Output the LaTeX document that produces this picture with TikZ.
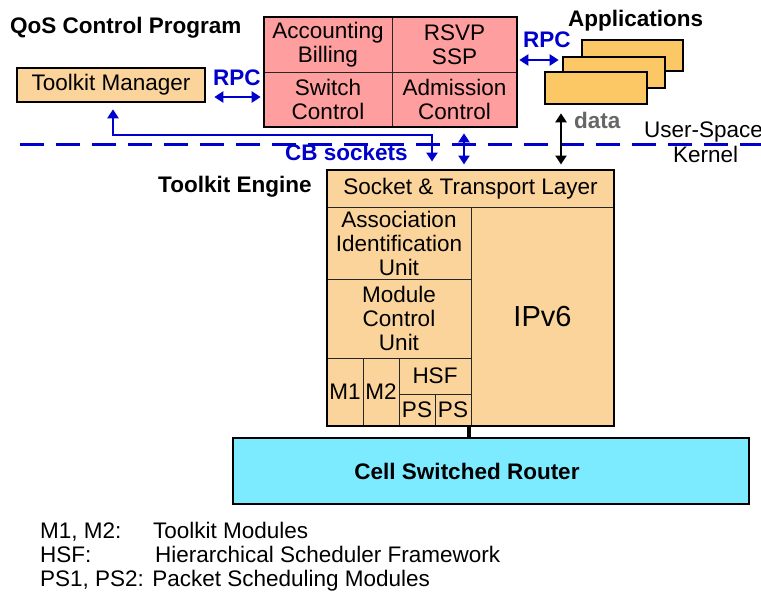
\documentclass[tikz,border=0pt]{standalone}
\usepackage{fontspec}
\setmainfont{Liberation Sans}
\usetikzlibrary{arrows.meta}
\definecolor{orfill}{HTML}{FAD49B}
\definecolor{redfill}{HTML}{FF9E9E}
\definecolor{appfill}{HTML}{FCC865}
\definecolor{routfill}{HTML}{7DEBFF}
\definecolor{myblue}{HTML}{0000CC}
\definecolor{datagray}{HTML}{666666}
\begin{document}
\begin{tikzpicture}[x=1pt,y=-1pt,
  font=\fontsize{22.5}{24}\selectfont,
  cell/.style={draw=black!85,line width=1pt,inner sep=0pt,align=center,minimum width=#1},
  cell/.default=10pt,
  thickbox/.style={draw=black,line width=2.6pt,inner sep=0pt},
  barrow/.style={draw=myblue,line width=2.6pt,{Triangle[length=9pt,width=11pt]}-{Triangle[length=9pt,width=11pt]}},
  karrow/.style={draw=black,line width=2.6pt,{Triangle[length=9pt,width=11pt]}-{Triangle[length=9pt,width=11pt]}},
  lbl/.style={inner sep=0pt,anchor=base west},
  blbl/.style={inner sep=0pt,anchor=base west,font=\fontsize{22.5}{24}\selectfont\bfseries},
]
\useasboundingbox (0,0) rectangle (761,592);

% coordinates for connector columns / rows
\coordinate (tmx) at (113,0);
\coordinate (cbx) at (432,0);
\coordinate (cbrow) at (0,135);
\coordinate (ssx) at (464,0);
\coordinate (datx) at (561,0);
\coordinate (rpcl) at (0,97);
\coordinate (rpcr) at (0,60);
\coordinate (busx) at (469,0);

% titles
\node[blbl] (qos) at (10,33) {QoS Control Program};
\node[blbl] (apptitle) at (568,26) {Applications};
\node[blbl] (tetitle) at (158,192) {Toolkit Engine};

% Toolkit Manager
\node[thickbox,fill=orfill,minimum width=188pt,minimum height=34pt] (tm) at (111,85) {Toolkit Manager};

% QoS red block
\node[cell=128pt,fill=redfill,minimum height=55pt] (acc) at (328,44.5) {Accounting\\Billing};
\node[cell=125pt,fill=redfill,minimum height=55pt] (rsvp) at (454.5,44.5) {RSVP\\SSP};
\node[cell=128pt,fill=redfill,minimum height=55pt] (sw) at (328,99.5) {Switch\\Control};
\node[cell=125pt,fill=redfill,minimum height=55pt] (adm) at (454.5,99.5) {Admission\\Control};
\node[thickbox,minimum width=253pt,minimum height=110pt] (red) at (390.5,72) {};

% Applications stack
\node[thickbox,fill=appfill,minimum width=101pt,minimum height=31pt] (app3) at (632.5,55.5) {};
\node[thickbox,fill=appfill,minimum width=102pt,minimum height=31pt] (app2) at (614,72.5) {};
\node[thickbox,fill=appfill,minimum width=102pt,minimum height=32pt] (app1) at (596,88) {};

% Toolkit engine
\node[cell=287pt,fill=orfill,minimum height=37pt] (sock) at (470.5,188.5) {Socket \& Transport Layer};
\node[cell=144pt,fill=orfill,minimum height=72pt] (assoc) at (399,243) {Association\\Identification\\Unit};
\node[cell=144pt,fill=orfill,minimum height=79pt] (mcu) at (399,318.5) {Module\\Control\\Unit};
\node[cell=143pt,fill=orfill,minimum height=219pt,font=\fontsize{29}{30}\selectfont] (ipv6) at (542.5,316.5) {IPv6};
\node[cell=36pt,fill=orfill,minimum height=68pt] (m1) at (345,392) {M1};
\node[cell=36pt,fill=orfill,minimum height=68pt] (m2) at (381,392) {M2};
\node[cell=72pt,fill=orfill,minimum height=36pt] (hsf) at (435,376) {HSF};
\node[cell=36pt,fill=orfill,minimum height=32pt] (ps1) at (417,410) {PS};
\node[cell=36pt,fill=orfill,minimum height=32pt] (ps2) at (453,410) {PS};
\node[thickbox,minimum width=287pt,minimum height=256pt] (eng) at (470.5,298) {};

% Router
\node[thickbox,fill=routfill,minimum width=516pt,minimum height=66pt] (router) at (491,471) {};
\node[inner sep=0pt,font=\fontsize{22.5}{24}\selectfont\bfseries] (routtxt) at (467,471) {Cell Switched Router};
\draw[line width=4pt] (eng.south -| busx) -- (router.north -| busx);

% user/kernel boundary
\coordinate (dashl) at (20,144);
\coordinate (dashr) at (761,144);
\draw[myblue,line width=3pt,dash pattern=on 24pt off 12pt] (dashl) -- (dashr);
\node[lbl] (us) at (644,137) {User-Space};
\node[lbl] (kern) at (673,162) {Kernel};

% RPC connectors
\node[blbl,text=myblue] (rpc1) at (213,85) {RPC};
\draw[barrow,shorten <=8pt,shorten >=2pt] (tm.east |- rpcl) -- (red.west |- rpcl);
\node[blbl,text=myblue] (rpc2) at (523,47) {RPC};
\draw[barrow,shorten <=1pt,shorten >=3pt] (red.east |- rpcr) -- (app2.west |- rpcr);

% CB sockets
\draw[barrow,shorten <=6pt,shorten >=8pt] (tm.south -| tmx) -- (tmx |- cbrow) -| (sock.north -| cbx);
\node[blbl,text=myblue] (cbs) at (285,160) {CB sockets};
\draw[barrow,shorten <=5pt,shorten >=5pt] (red.south -| ssx) -- (sock.north -| ssx);

% data
\draw[karrow,shorten <=8pt,shorten >=5pt] (app1.south -| datx) -- (sock.north -| datx);
\node[blbl,text=datagray] (data) at (574,128) {data};

% legend
\node[lbl] (lg1a) at (40,538) {M1, M2:};
\node[lbl] (lg1b) at (153,538) {Toolkit Modules};
\node[lbl] (lg2a) at (40,562) {HSF:};
\node[lbl] (lg2b) at (155,562) {Hierarchical Scheduler Framework};
\node[lbl] (lg3) at (40,586) {PS1, PS2: Packet Scheduling Modules};
\end{tikzpicture}
\end{document}
